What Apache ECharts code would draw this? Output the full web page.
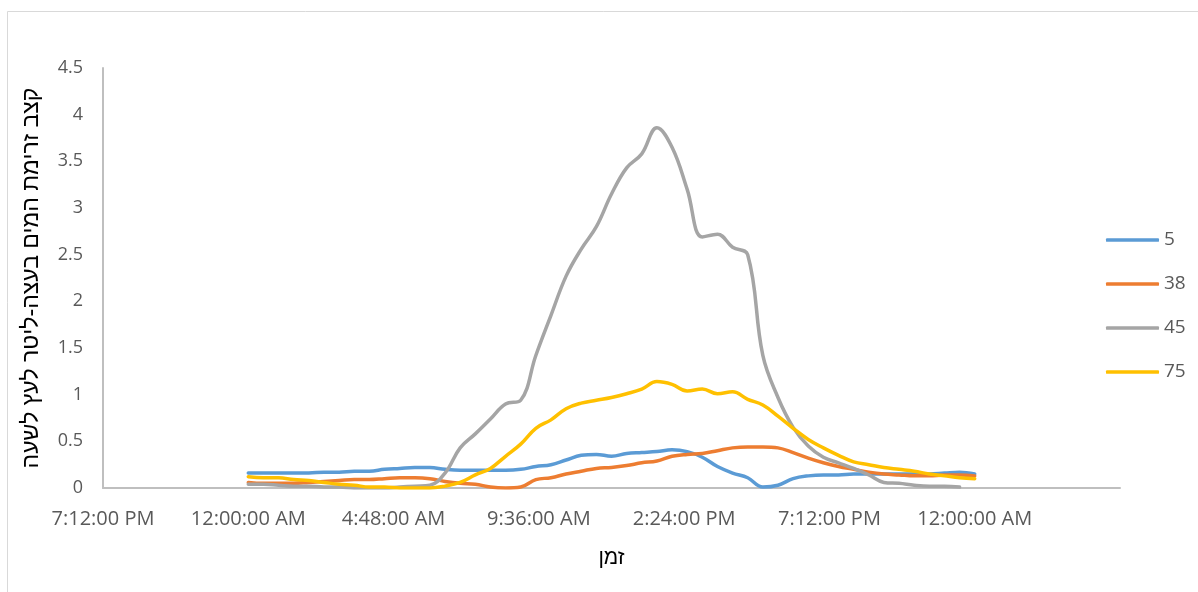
<!DOCTYPE html>
<html>
<head>
<meta charset="utf-8">
<script src="https://cdn.jsdelivr.net/npm/echarts@6/dist/echarts.min.js"></script>
<style>
  html, body { margin: 0; padding: 0; background: #fff; }
  #chart { width: 1198px; height: 592px; }
</style>
</head>
<body>
<div id="chart"></div>
<script>
// Sample times, minutes after midnight (every half hour)
const minutes = [0, 30, 60, 90, 120, 150, 180, 210, 240, 270, 300, 330, 360, 390, 420, 450,
  480, 510, 540, 570, 600, 630, 660, 690, 720, 750, 780, 810, 840, 870, 900, 930,
  960, 990, 1020, 1050, 1080, 1110, 1140, 1170, 1200, 1230, 1260, 1290, 1320, 1350, 1380, 1410, 1440];

const seriesNames = ['5', '38', '45', '75'];

const flow5 = [0.16, 0.16, 0.16, 0.16, 0.16, 0.17, 0.17, 0.18, 0.18, 0.20, 0.21, 0.22, 0.22, 0.20, 0.19, 0.19,
  0.19, 0.19, 0.20, 0.23, 0.25, 0.30, 0.35, 0.36, 0.34, 0.37, 0.38, 0.39, 0.41, 0.39, 0.33, 0.23,
  0.16, 0.11, 0.01, 0.03, 0.10, 0.13, 0.14, 0.14, 0.15, 0.15, 0.15, 0.15, 0.15, 0.15, 0.16, 0.17, 0.15];

const flow38 = [0.06, 0.05, 0.05, 0.05, 0.06, 0.07, 0.08, 0.09, 0.09, 0.10, 0.11, 0.11, 0.10, 0.07, 0.05, 0.04,
  0.01, 0.00, 0.01, 0.09, 0.11, 0.15, 0.18, 0.21, 0.22, 0.24, 0.27, 0.29, 0.34, 0.36, 0.37, 0.40,
  0.43, 0.44, 0.44, 0.43, 0.38, 0.32, 0.27, 0.23, 0.20, 0.17, 0.15, 0.14, 0.13, 0.13, 0.14, 0.14, 0.13];

const flow45 = [0.04, 0.04, 0.03, 0.02, 0.02, 0.01, 0.01, 0.00, 0.00, 0.00, 0.01, 0.02, 0.03, 0.16, 0.43, 0.58,
  0.74, 0.90, 0.94, 1.42, 1.85, 2.27, 2.56, 2.80, 3.15, 3.43, 3.58, 3.86, 3.65, 3.20, 2.69, 2.72,
  2.58, 2.50, 1.42, 0.97, 0.65, 0.45, 0.33, 0.27, 0.21, 0.14, 0.06, 0.05, 0.03, 0.02, 0.02, 0.01];

const flow75 = [0.12, 0.11, 0.11, 0.09, 0.08, 0.06, 0.04, 0.03, 0.01, 0.01, 0.00, 0.00, 0.00, 0.02, 0.06, 0.14,
  0.21, 0.34, 0.47, 0.64, 0.73, 0.85, 0.91, 0.94, 0.97, 1.01, 1.06, 1.14, 1.11, 1.04, 1.06, 1.01,
  1.03, 0.95, 0.89, 0.77, 0.64, 0.52, 0.43, 0.35, 0.28, 0.25, 0.22, 0.20, 0.18, 0.15, 0.13, 0.11, 0.10];

// X axis tick labels, from 7:12 PM the evening before, every 4.8 hours
const xTickLabels = ['7:12:00 PM', '12:00:00 AM', '4:48:00 AM', '9:36:00 AM', '2:24:00 PM', '7:12:00 PM', '12:00:00 AM', ''];
const X_MIN = -288, X_STEP = 288, X_MAX = 1728;

const colors = ['#5B9BD5', '#ED7D31', '#A5A5A5', '#FFC000'];
const allFlows = [flow5, flow38, flow45, flow75];

function pairs(values) {
  return values.map((v, i) => [minutes[i], v]);
}

const chart = echarts.init(document.getElementById('chart'), null, { renderer: 'canvas' });

const latinFont = '"Open Sans", "Liberation Sans", "DejaVu Sans", sans-serif';
const hebrewFont = '"Liberation Sans", "DejaVu Sans", sans-serif';

chart.setOption({
  animation: false,
  backgroundColor: '#ffffff',
  color: colors,
  graphic: [{
    type: 'rect',
    shape: { x: 7.5, y: 11.5, width: 1200, height: 600 },
    style: { fill: 'none', stroke: '#d9d9d9', lineWidth: 1 },
    silent: true
  }],
  grid: { left: 103, right: 78, top: 68, bottom: 104 },
  legend: {
    orient: 'vertical',
    left: 1101,
    top: 225,
    icon: 'roundRect',
    itemWidth: 53,
    itemHeight: 3.5,
    itemGap: 24,
    data: seriesNames,
    textStyle: { fontSize: 19, lineHeight: 20, color: '#595959', fontFamily: latinFont }
  },
  xAxis: {
    type: 'value',
    min: X_MIN,
    max: X_MAX,
    interval: X_STEP,
    name: 'זמן',
    nameLocation: 'middle',
    nameGap: 60,
    nameTextStyle: { fontSize: 21, color: '#000', fontFamily: hebrewFont },
    axisLine: { show: true, onZero: false, lineStyle: { color: '#bfbfbf', width: 2 } },
    axisTick: { show: false },
    splitLine: { show: false },
    axisLabel: {
      margin: 21,
      fontSize: 20,
      color: '#595959',
      fontFamily: latinFont,
      formatter: v => xTickLabels[Math.round((v - X_MIN) / X_STEP)] || ''
    }
  },
  yAxis: {
    type: 'value',
    min: 0,
    max: 4.5,
    interval: 0.5,
    name: 'קצב זרימת המים בעצה-ליטר לעץ לשעה',
    nameLocation: 'middle',
    nameRotate: 90,
    nameGap: 60,
    nameTextStyle: { fontSize: 23, color: '#000', fontFamily: hebrewFont },
    axisLine: { show: true, onZero: false, lineStyle: { color: '#bfbfbf', width: 2 } },
    axisTick: { show: false },
    splitLine: { show: false },
    axisLabel: { margin: 20, fontSize: 18, color: '#595959', fontFamily: latinFont }
  },
  series: seriesNames.map((name, i) => ({
    name: name,
    type: 'line',
    data: pairs(allFlows[i]),
    smooth: 0.4,
    symbol: 'none',
    showSymbol: false,
    lineStyle: { width: 3.5, color: colors[i], cap: 'round', join: 'round' },
    itemStyle: { color: colors[i] }
  }))
});
</script>
</body>
</html>
